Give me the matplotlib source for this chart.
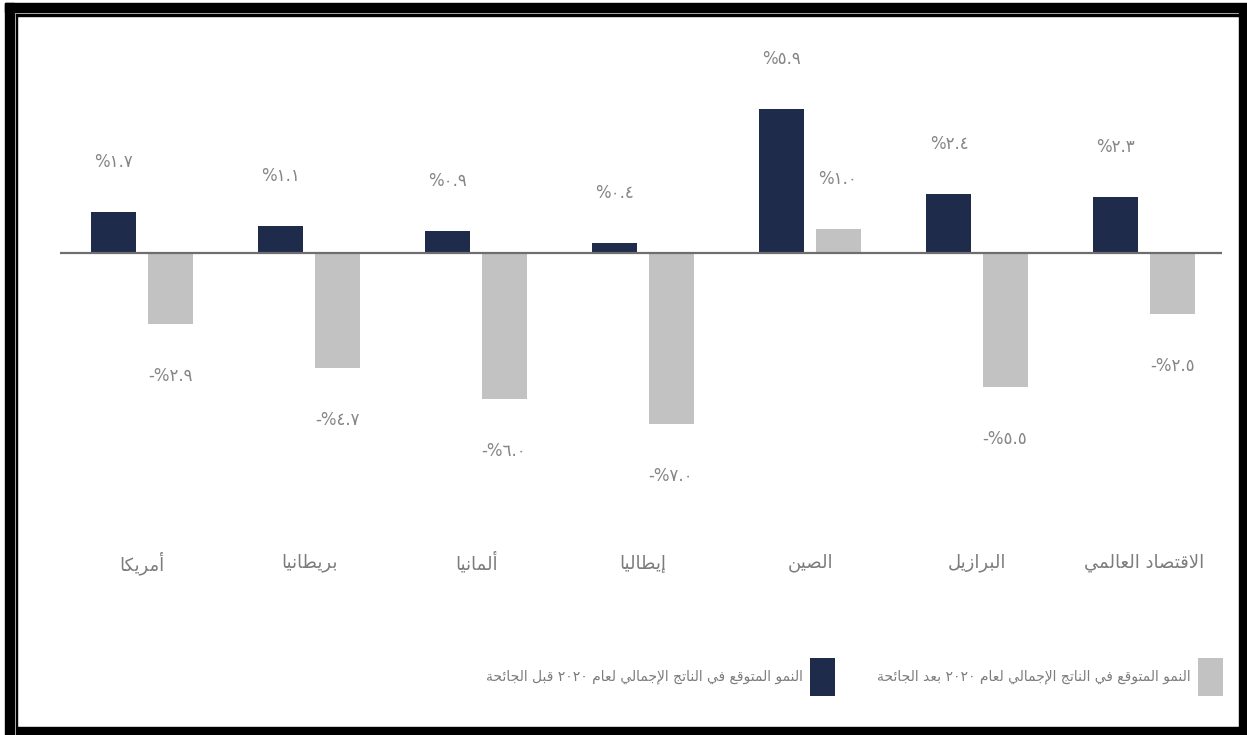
import re

import matplotlib
matplotlib.use("Agg")
import matplotlib.pyplot as plt
from matplotlib.patches import Patch, Rectangle

FIG_W, FIG_H = 1247, 735
DPI = 100

CATEGORIES = ["أمريكا", "بريطانيا", "ألمانيا", "إيطاليا", "الصين", "البرازيل",
              "الاقتصاد العالمي"]
GROWTH_BEFORE = [1.7, 1.1, 0.9, 0.4, 5.9, 2.4, 2.3]
GROWTH_AFTER = [-2.9, -4.7, -6.0, -7.0, 1.0, -5.5, -2.5]
SERIES_NAMES = ["النمو المتوقع في الناتج الإجمالي لعام ٢٠٢٠ قبل الجائحة",
                "النمو المتوقع في الناتج الإجمالي لعام ٢٠٢٠ بعد الجائحة"]

DARK = "#1f2b4a"
LIGHT = "#c2c2c2"
TEXT = "#7c7c7c"

# presentation form base code point and number of contextual forms
_JOIN = {
    'ء': (0xFE80, 1), 'آ': (0xFE81, 2), 'أ': (0xFE83, 2), 'ؤ': (0xFE85, 2),
    'إ': (0xFE87, 2), 'ئ': (0xFE89, 4), 'ا': (0xFE8D, 2), 'ب': (0xFE8F, 4),
    'ة': (0xFE93, 2), 'ت': (0xFE95, 4), 'ث': (0xFE99, 4), 'ج': (0xFE9D, 4),
    'ح': (0xFEA1, 4), 'خ': (0xFEA5, 4), 'د': (0xFEA9, 2), 'ذ': (0xFEAB, 2),
    'ر': (0xFEAD, 2), 'ز': (0xFEAF, 2), 'س': (0xFEB1, 4), 'ش': (0xFEB5, 4),
    'ص': (0xFEB9, 4), 'ض': (0xFEBD, 4), 'ط': (0xFEC1, 4), 'ظ': (0xFEC5, 4),
    'ع': (0xFEC9, 4), 'غ': (0xFECD, 4), 'ف': (0xFED1, 4), 'ق': (0xFED5, 4),
    'ك': (0xFED9, 4), 'ل': (0xFEDD, 4), 'م': (0xFEE1, 4), 'ن': (0xFEE5, 4),
    'ه': (0xFEE9, 4), 'و': (0xFEED, 2), 'ى': (0xFEEF, 2), 'ي': (0xFEF1, 4),
}
_LAM_ALEF = {'آ': 0xFEF5, 'أ': 0xFEF7, 'إ': 0xFEF9, 'ا': 0xFEFB}
_AR_DIGITS = str.maketrans("0123456789", "٠١٢٣٤٥٦٧٨٩")


def shape_arabic(text):
    """
    Join Arabic letters into their contextual forms and lay them out
    right to left, since matplotlib draws glyphs one by one.
    """
    chars = []
    i = 0
    while i < len(text):
        if text[i] == 'ل' and i + 1 < len(text) and text[i + 1] in _LAM_ALEF:
            chars.append(('LA', text[i + 1]))
            i += 2
        else:
            chars.append((text[i], None))
            i += 1

    out = []
    for k, (char, alef) in enumerate(chars):
        prev = chars[k - 1][0] if k > 0 else None
        nxt = chars[k + 1][0] if k + 1 < len(chars) else None
        prev_links = prev in _JOIN and _JOIN[prev][1] == 4
        if char == 'LA':
            out.append(chr(_LAM_ALEF[alef] + (1 if prev_links else 0)))
            continue
        if char not in _JOIN:
            out.append(char)
            continue
        base, n_forms = _JOIN[char]
        if n_forms == 1:
            out.append(chr(base))
            continue
        next_links = n_forms == 4 and (
            nxt == 'LA' or (nxt in _JOIN and _JOIN[nxt][1] > 1))
        if prev_links and next_links:
            form = 3
        elif prev_links:
            form = 1
        elif next_links:
            form = 2
        else:
            form = 0
        out.append(chr(base + form))

    visual = ''.join(reversed(out))
    # numbers keep reading left to right inside the line
    return re.sub(r'[0-9\u0660-\u0669]+', lambda m: m.group(0)[::-1], visual)


def value_label(val):
    digits = f"{abs(val):.1f}".translate(_AR_DIGITS)
    return ("-%" if val < 0 else "%") + digits


def px(x, y):
    """Pixel position (from top left) to figure fraction."""
    return x / FIG_W, 1 - y / FIG_H


plt.rcParams['font.family'] = ['DejaVu Sans']

fig = plt.figure(figsize=(FIG_W / DPI, FIG_H / DPI), dpi=DPI)

# axes placed so that zero sits at y=253 px and groups are 167 px apart
ax = fig.add_axes([60 / FIG_W, 135 / FIG_H, 1162 / FIG_W, 580 / FIG_H])
ax.set_xlim(-0.491, 6.467)
ax.set_ylim(-14.22, 9.55)
ax.axis("off")

offset = 0.168
width = 0.27
xs = list(range(len(CATEGORIES)))
ax.bar([x - offset for x in xs], GROWTH_BEFORE, width, color=DARK, zorder=2)
ax.bar([x + offset for x in xs], GROWTH_AFTER, width, color=LIGHT, zorder=2)
ax.axhline(0, color="#6e6e6e", lw=1.6, zorder=3)

for x, val in zip(xs, GROWTH_BEFORE):
    ax.annotate(value_label(val), (x - offset, val), xytext=(0, 50),
                textcoords="offset pixels", ha="center", va="center",
                fontsize=12, color="#858585")
for x, val in zip(xs, GROWTH_AFTER):
    ax.annotate(value_label(val), (x + offset, val),
                xytext=(0, 50 if val > 0 else -52),
                textcoords="offset pixels", ha="center", va="center",
                fontsize=12, color="#858585")

for x, name in zip(xs, CATEGORIES):
    ax.text(x, -12.7, shape_arabic(name), ha="center", va="center",
            fontsize=13, color=TEXT)

handles = [Patch(facecolor=DARK), Patch(facecolor=LIGHT)]
fig.legend(handles, [shape_arabic(s) for s in SERIES_NAMES], ncol=2,
           loc="center right", bbox_to_anchor=px(1235, 677),
           markerfirst=False, frameon=False, fontsize=10,
           labelcolor=TEXT, handlelength=1.8, handleheight=3.9,
           handletextpad=0.5, columnspacing=3.0)

# double black frame around the figure
frame = [
    (5, 3, 1242, 9), (5, 3, 9, 732), (1239, 13, 8, 722), (16, 727, 1223, 8),
    (16, 14, 1223, 1.5), (15.5, 14, 1.8, 713),
]
for x0, y0, w, h in frame:
    fx, fy = px(x0, y0 + h)
    fig.patches.append(Rectangle((fx, fy), w / FIG_W, h / FIG_H,
                                 transform=fig.transFigure, color="black"))

fig.savefig("out.png", dpi=DPI)
